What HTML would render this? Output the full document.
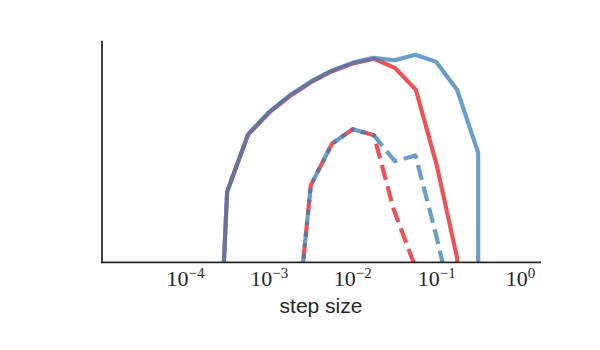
<!DOCTYPE html>
<html>
<head>
<meta charset="utf-8">
<title>step size</title>
<style>
html,body{margin:0;padding:0;background:#ffffff;}
body{width:600px;height:350px;overflow:hidden;font-family:"Liberation Sans",sans-serif;}
svg{display:block;}
.tick{font-family:"Liberation Serif",serif;fill:#262626;}
.lbl{font-family:"Liberation Sans",sans-serif;fill:#262626;}
</style>
</head>
<body>
<svg width="600" height="350" viewBox="0 0 600 350">
<rect x="0" y="0" width="600" height="350" fill="#ffffff"/>
<defs>
<clipPath id="ax"><rect x="102" y="41" width="439.1" height="221.3"/></clipPath>
</defs>
<g clip-path="url(#ax)" fill="none" stroke-width="4.17" stroke-linejoin="round" stroke-linecap="butt">
<path d="M223.50,270.00 L223.85,262.30 L227.10,191.70 L248.10,134.50 L269.10,112.70 L290.00,95.90 L311.00,82.20 L332.00,71.20 L353.00,63.40 L373.60,58.70 L394.80,67.80 L415.80,89.60 L436.55,164.40 L457.25,258.50 L457.25,270.00" stroke="#e41a1c" stroke-opacity="0.75"/>
<path d="M223.55,270.00 L223.90,262.30 L227.20,191.70 L248.10,134.20 L269.10,111.90 L290.00,95.10 L311.00,81.40 L332.00,70.40 L353.00,62.60 L373.60,57.90 L394.40,60.20 L415.40,54.80 L436.30,61.90 L457.20,90.00 L478.20,152.90 L478.20,270.00" stroke="#377eb8" stroke-opacity="0.75"/>
<path d="M303.10,262.30 L310.80,185.30 L332.00,143.70 L352.70,129.20 L373.90,135.20 L393.60,209.20 L413.50,262.30 L415.20,267.00" stroke="#e41a1c" stroke-opacity="0.75" stroke-dasharray="15.4 6.67" stroke-dashoffset="18.5"/>
<path d="M303.10,262.30 L310.80,185.30 L332.00,143.70 L352.70,129.20 L373.90,135.20 L394.80,161.20 L415.50,155.60 L436.20,235.20 L442.50,262.30 L457.20,320.00" stroke="#377eb8" stroke-opacity="0.75" stroke-dasharray="15.4 6.67" stroke-dashoffset="6.8"/>
</g>
<g stroke="#262626" stroke-width="1.74" fill="none" stroke-linecap="square">
<line x1="102" y1="41.7" x2="102" y2="262.3"/>
<line x1="102" y1="262.3" x2="540.2" y2="262.3"/>
</g>
<g fill="#262626" font-family="Liberation Serif, serif" font-size="22">
<text x="185.5" y="286.4" text-anchor="middle">10<tspan dy="-8.3" font-size="15">−4</tspan></text>
<text x="269.3" y="286.4" text-anchor="middle">10<tspan dy="-8.3" font-size="15">−3</tspan></text>
<text x="352.7" y="286.4" text-anchor="middle">10<tspan dy="-8.3" font-size="15">−2</tspan></text>
<text x="436.7" y="286.4" text-anchor="middle">10<tspan dy="-8.3" font-size="15">−1</tspan></text>
<text x="520.5" y="286.4" text-anchor="middle">10<tspan dy="-8.3" font-size="15">0</tspan></text>
</g>
<text x="321" y="313" text-anchor="middle" fill="#262626" font-family="Liberation Sans, sans-serif" font-size="21">step size</text>

</svg>
</body>
</html>
